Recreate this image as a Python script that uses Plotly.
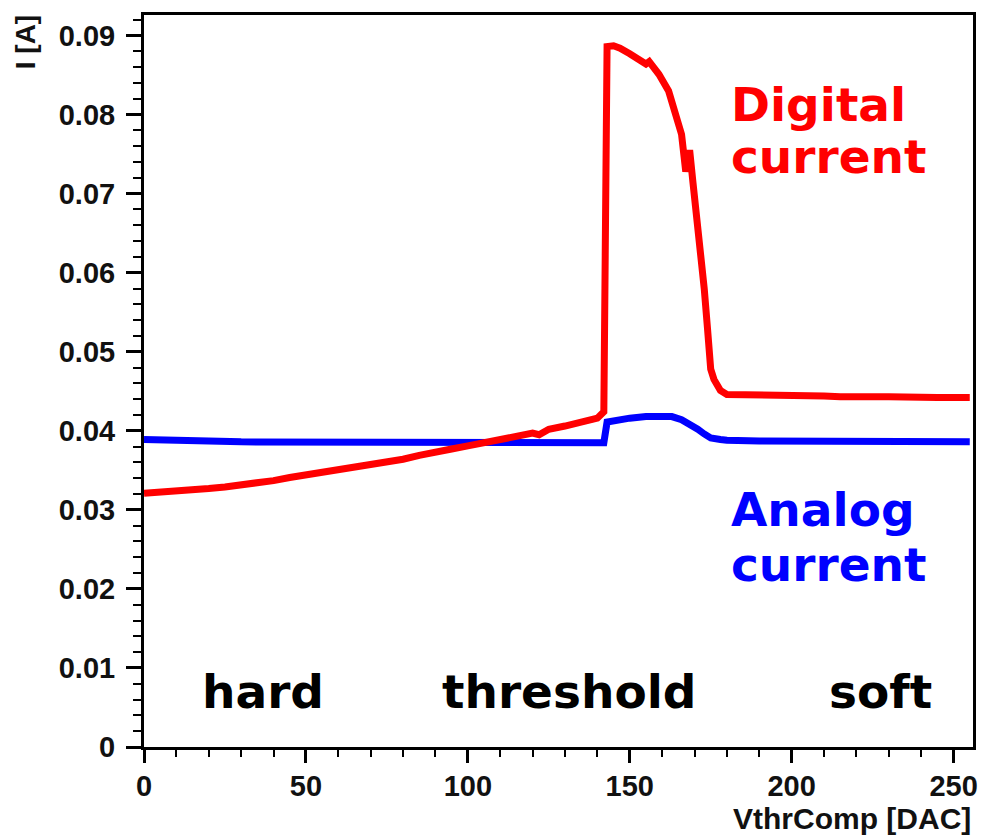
import plotly.graph_objects as go

# Digital current (red)
dig_x = [0, 5, 10, 15, 20, 25, 30, 35, 40, 45, 50, 55, 60, 65, 70, 75, 80, 85, 90, 95,
         100, 105, 110, 115, 120, 122, 125, 130, 135, 140, 142, 143, 145, 147, 150, 153,
         155, 156, 159, 162, 164, 166, 167.3, 168.5, 169.5, 171, 172, 173, 174, 175, 176,
         178, 180, 185, 190, 195, 200, 205, 210, 215, 220, 225, 230, 235, 240, 245, 250,
         255]
dig_y = [0.0321, 0.0322, 0.0323, 0.0325, 0.0327, 0.0329, 0.0331, 0.0334, 0.0337, 0.0341,
         0.0344, 0.0347, 0.0350, 0.0354, 0.0357, 0.0361, 0.0364, 0.0369, 0.0372, 0.0377,
         0.0381, 0.0385, 0.0389, 0.0393, 0.0397, 0.0395, 0.0402, 0.0406, 0.0410, 0.0416,
         0.0424, 0.0886, 0.0887, 0.0884, 0.0877, 0.0870, 0.0864, 0.0867, 0.0851, 0.0830,
         0.0805, 0.0775, 0.0728, 0.0755, 0.0715, 0.0664, 0.0625, 0.0580, 0.0530, 0.0478,
         0.0465, 0.0451, 0.0446, 0.0446, 0.0445, 0.0444, 0.0445, 0.0444, 0.0444, 0.0443,
         0.0444, 0.0443, 0.0443, 0.0442, 0.0443, 0.0442, 0.0442, 0.0442]

# Analog current (blue)
ana_x = [0, 5, 10, 15, 20, 30, 40, 50, 60, 70, 80, 90, 100, 110, 120, 130, 140, 142,
         143, 145, 150, 155, 160, 163, 166, 169, 171, 173, 175, 178, 180, 190, 200, 210,
         220, 230, 240, 250, 255]
ana_y = [0.0389, 0.0389, 0.0389, 0.0388, 0.0387, 0.0386, 0.0386, 0.0386, 0.0386, 0.0386,
         0.0386, 0.0385, 0.0385, 0.0385, 0.0385, 0.0385, 0.0385, 0.0385,
         0.0411, 0.0413, 0.0416, 0.0418, 0.0419, 0.0418, 0.0414, 0.0408, 0.0402, 0.0396,
         0.0391, 0.0389, 0.0388, 0.0387, 0.0387, 0.0386, 0.0386, 0.0386, 0.0386, 0.0386,
         0.0386]

x_tickvals = [0, 50, 100, 150, 200, 250]
y_tickvals = [0, 0.01, 0.02, 0.03, 0.04, 0.05, 0.06, 0.07, 0.08, 0.09]
y_ticktext = ["0", "0.01", "0.02", "0.03", "0.04", "0.05", "0.06", "0.07", "0.08", "0.09"]

fig = go.Figure()
fig.add_trace(go.Scatter(x=ana_x, y=ana_y, mode="lines",
                         line=dict(color="#0000ff", width=7), showlegend=False))
fig.add_trace(go.Scatter(x=dig_x, y=dig_y, mode="lines",
                         line=dict(color="#ff0000", width=7), showlegend=False))

tickfont = dict(family="Liberation Sans, Arial, sans-serif", size=29, color="#111", weight="bold")

fig.update_layout(
    width=990, height=835,
    margin=dict(l=144, r=15, t=12, b=88),
    plot_bgcolor="white", paper_bgcolor="white",
    xaxis=dict(range=[0, 256], tickvals=x_tickvals, ticks="outside", ticklen=13, tickwidth=2.5,
               tickcolor="black", showline=True, linewidth=3, linecolor="black", mirror=True,
               showgrid=False, zeroline=False, tickfont=tickfont, ticklabelstandoff=-2,
               minor=dict(dtick=10, ticks="outside", ticklen=7, tickwidth=2, tickcolor="black",
                          showgrid=False)),
    yaxis=dict(range=[0, 0.0926], tickvals=y_tickvals, ticktext=y_ticktext, ticks="outside",
               ticklen=15, tickwidth=2.5, tickcolor="black", showline=True, linewidth=3,
               linecolor="black", mirror=True, showgrid=False, zeroline=False,
               tickfont=tickfont, ticklabelstandoff=5,
               minor=dict(dtick=0.002, ticks="outside", ticklen=8, tickwidth=2,
                          tickcolor="black", showgrid=False)),
)

ann_font = "DejaVu Sans, Verdana, sans-serif"

def px2x(px):
    return (px - 144.3) / 3.248

def px2y(py):
    return (747 - py) / 7935.0

texts = [
    ("hard", 264, 691, "center", "black"),
    ("threshold", 571, 691, "center", "black"),
    ("soft", 883, 691, "center", "black"),
    ("Digital", 731, 102, "left", "#ff0000"),
    ("current", 731, 154, "left", "#ff0000"),
    ("Analog", 731, 509, "left", "#0000ff"),
    ("current", 731, 564, "left", "#0000ff"),
]
for t, px, py, anchor, col in texts:
    fig.add_annotation(x=px2x(px), y=px2y(py), xref="x", yref="y", text=t, showarrow=False,
                       xanchor=anchor, yanchor="middle",
                       font=dict(family=ann_font, size=47, color=col, weight="bold"))

fig.add_annotation(x=1.0, y=-0.097, xref="paper", yref="paper", text="VthrComp [DAC]",
                   showarrow=False, xanchor="right", yanchor="middle",
                   font=dict(family="Liberation Sans, Arial, sans-serif", size=30,
                             color="#111", weight="bold"))
fig.add_annotation(x=-0.143, y=1.003, xref="paper", yref="paper", text="I [A]",
                   showarrow=False, textangle=-90, xanchor="center", yanchor="top",
                   font=dict(family="Liberation Sans, Arial, sans-serif", size=28,
                             color="#111", weight="bold"))

fig.write_html("out.html")
